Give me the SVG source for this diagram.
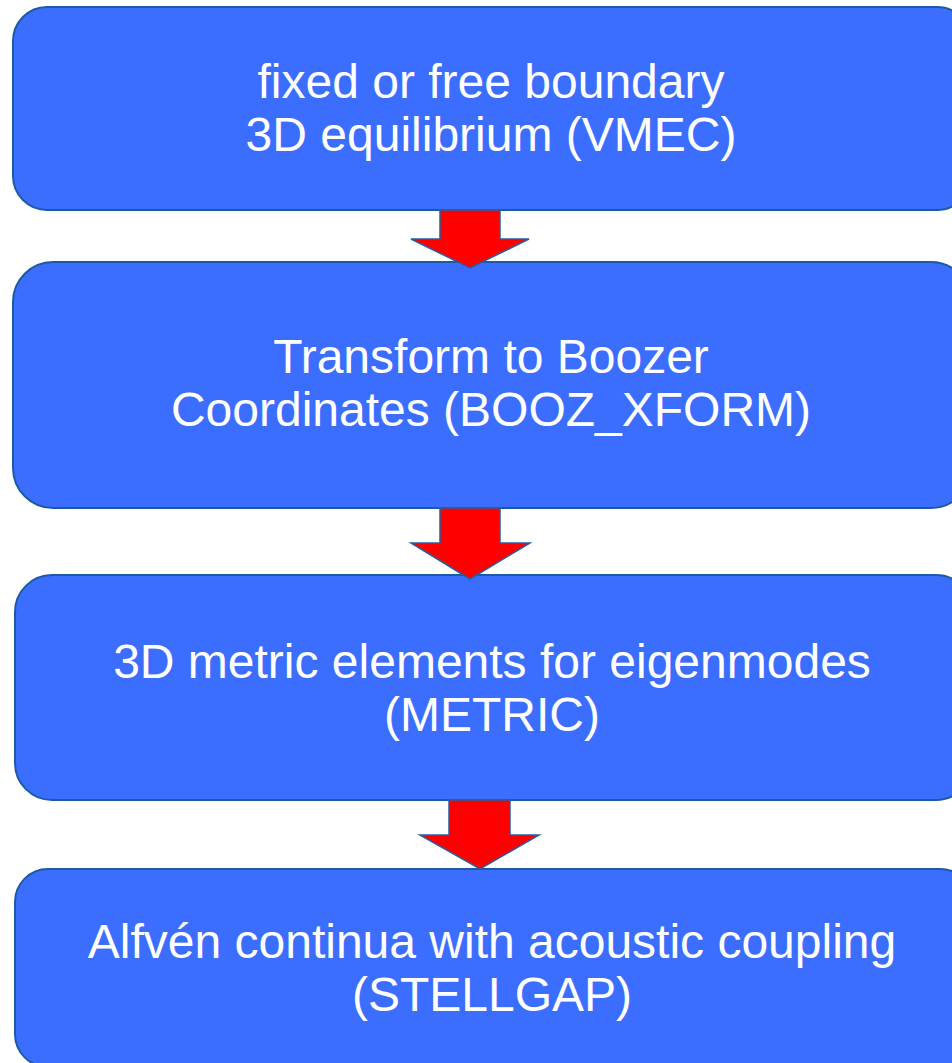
<svg xmlns="http://www.w3.org/2000/svg" width="952" height="1063" viewBox="0 0 952 1063">
<style>
.box{fill:#3b6eff;stroke:#1d5aa6;stroke-width:2}
.arr{fill:#ff0000;stroke:#2a5d9f;stroke-width:1.5;stroke-linejoin:miter}
.t{font-family:"Liberation Sans",Arial,sans-serif;font-size:48px;fill:#ffffff;text-anchor:middle}
</style>
<rect width="952" height="1063" fill="#ffffff"/>
<g id="node1">
<rect class="box" x="13" y="7" width="958" height="203" rx="34" ry="34"/>
<text class="t" x="491" y="98">fixed or free boundary</text>
<text class="t" x="491" y="151">3D equilibrium (VMEC)</text>
</g>
<g id="node2">
<rect class="box" x="13" y="262" width="958" height="246" rx="40" ry="40"/>
<text class="t" x="491" y="373">Transform to Boozer</text>
<text class="t" x="491" y="426">Coordinates (BOOZ_XFORM)</text>
</g>
<g id="node3">
<rect class="box" x="15" y="575" width="958" height="225" rx="37" ry="37"/>
<text class="t" x="492" y="678">3D metric elements for eigenmodes</text>
<text class="t" x="492" y="731">(METRIC)</text>
</g>
<g id="node4">
<rect class="box" x="15" y="869" width="958" height="198" rx="33" ry="33"/>
<text class="t" x="492" y="958">Alfvén continua with acoustic coupling</text>
<text class="t" x="492" y="1011">(STELLGAP)</text>
</g>
<g id="connectors">
<polygon class="arr" points="440,210 500,210 500,239 529,239 470,268 411,239 440,239"/>
<polygon class="arr" points="440,508 500,508 500,543 530,543 470,579 411,543 440,543"/>
<polygon class="arr" points="449,800 510,800 510,835 539,835 480,869 420,835 449,835"/>
</g>
</svg>
